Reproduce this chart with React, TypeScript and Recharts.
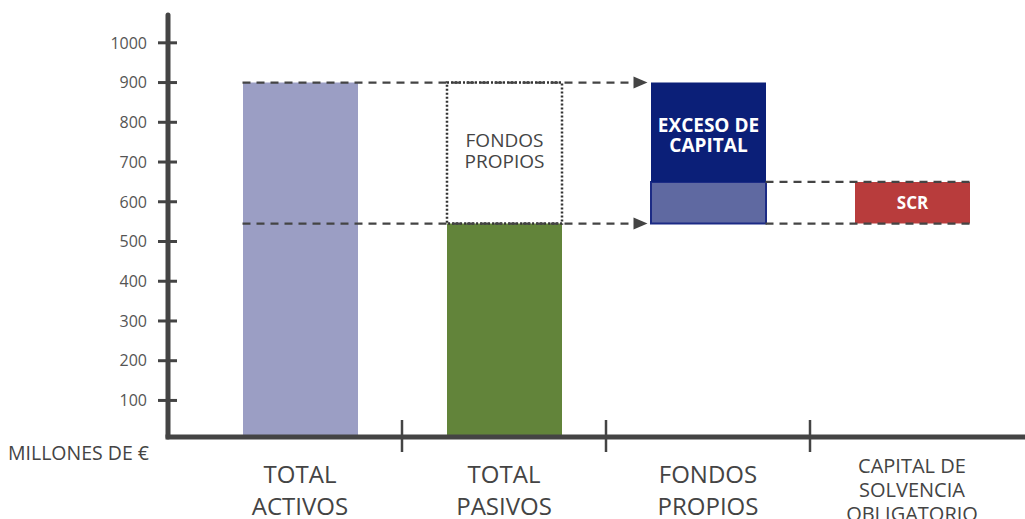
import React from "react"
import { BarChart, Bar, XAxis, YAxis, Cell, LabelList, ReferenceLine } from "recharts"

// categories and their tick label lines
const categories = ["TOTAL ACTIVOS", "TOTAL PASIVOS", "FONDOS PROPIOS", "CAPITAL DE SOLVENCIA OBLIGATORIO"]
const tickLines = [["TOTAL", "ACTIVOS"], ["TOTAL", "PASIVOS"], ["FONDOS", "PROPIOS"], ["CAPITAL DE", "SOLVENCIA", "OBLIGATORIO"]]

// stacked pieces (millones de €)
const baseValues = [0, 0, 545, 545]
const lowerValues = [900, 545, 105, 105]
const upperValues = [0, 355, 250, 0]
const lowerLabels = ["", "", "", "SCR"]
const upperLabels = ["", "FONDOS PROPIOS", "EXCESO DE CAPITAL", ""]

// guide levels
const totalActivos = 900
const totalPasivos = 545
const scrLevel = 650

const yTicks = [100, 200, 300, 400, 500, 600, 700, 800, 900, 1000]

const data = categories.map((name, i) => ({
    name,
    base: baseValues[i],
    lower: lowerValues[i],
    upper: upperValues[i],
    lowerLabel: lowerLabels[i],
    upperLabel: upperLabels[i],
}))

const BAR_SIZE = 115
const HALF = BAR_SIZE / 2
const INK = "#444"

const lowerFills = ["#9b9ec4", "#62843a", "#5f69a1", "#b83c3c"]
const upperFills = ["none", "none", "#0b1f78", "none"]

const labelStyles: Record<string, { size: number; weight: number; fill: string; lh: number; dy: number; lines: string[] }> = {
    "FONDOS PROPIOS": { size: 19, weight: 400, fill: "#444", lh: 21, dy: -6, lines: ["FONDOS", "PROPIOS"] },
    "EXCESO DE CAPITAL": { size: 19, weight: 700, fill: "#fff", lh: 20, dy: 0, lines: ["EXCESO DE", "CAPITAL"] },
    "SCR": { size: 17, weight: 700, fill: "#fff", lh: 20, dy: 6, lines: ["SCR"] },
}

function InnerLabel(props: any) {
    const { x, y, width, height, value } = props
    const st = labelStyles[value]
    if (!st) return null
    const cx = x + width / 2
    const cy = y + height / 2
    return (
        <text x={cx} textAnchor="middle" fill={st.fill} fontSize={st.size} fontWeight={st.weight}>
            {st.lines.map((l, k) => (
                <tspan key={k} x={cx} y={cy + st.dy + k * st.lh}>{l}</tspan>
            ))}
        </text>
    )
}

function CategoryTick(props: any) {
    const { x, y, payload } = props
    const i = categories.indexOf(payload.value)
    const lines = tickLines[i] || []
    const half = payload.offset || 102
    const small = lines.length > 2
    const size = small ? 20 : 24
    const first = small ? 36 : 46
    const lh = small ? 24 : 32
    return (
        <g>
            {i < categories.length - 1 && (
                <line x1={x + half} x2={x + half} y1={y - 17} y2={y + 15} stroke={INK} strokeWidth={2.5} />
            )}
            <text x={x} textAnchor="middle" fill={INK} fontSize={size}>
                {lines.map((l, k) => (
                    <tspan key={k} x={x} y={y + first + k * lh}>{l}</tspan>
                ))}
            </text>
        </g>
    )
}

function ValueTick(props: any) {
    const { x, y, payload } = props
    return (
        <g>
            <line x1={x - 10} x2={x + 9} y1={y} y2={y} stroke={INK} strokeWidth={3} />
            <text x={x - 21} y={y} dy="0.36em" textAnchor="end" fontSize={16} fill="#555">{payload.value}</text>
        </g>
    )
}

function Guide(props: any) {
    const { x1, y1, x2, startShift, endShift, arrow } = props
    if (x1 == null || y1 == null) return null
    const sx = x1 + startShift
    const ex = x2 + endShift
    const lineEnd = arrow ? ex - 12 : ex
    return (
        <g>
            <line x1={sx} y1={y1} x2={lineEnd} y2={y1} stroke={INK} strokeWidth={2.2} strokeDasharray="8 6" />
            {arrow && <polygon points={`${ex},${y1} ${ex - 14},${y1 - 6} ${ex - 14},${y1 + 6}`} fill={INK} />}
        </g>
    )
}

function UnitLabel(props: any) {
    const vb = props.viewBox || { x: 0, y: 15, width: 168, height: 422 }
    return (
        <text x={vb.x + 8} y={vb.y + vb.height + 23} fontSize={19.5} fill={INK}>MILLONES DE €</text>
    )
}

export default function App() {
    return (
        <div style={{ position: "absolute", left: 0, top: 0, fontFamily: "'Open Sans', sans-serif" }}>
            <BarChart width={1025} height={519} data={data} margin={{ top: 15, right: 0, left: 0, bottom: 0 }}>
                <XAxis
                    dataKey="name"
                    interval={0}
                    tickLine={false}
                    tickSize={0}
                    tickMargin={0}
                    height={82}
                    padding={{ left: 30, right: 11 }}
                    axisLine={{ stroke: INK, strokeWidth: 5, strokeLinecap: "square" }}
                    tick={<CategoryTick />}
                />
                <YAxis
                    width={168}
                    domain={[8, 1070]}
                    allowDataOverflow
                    ticks={yTicks}
                    interval={0}
                    tickLine={false}
                    tickSize={0}
                    tickMargin={0}
                    axisLine={{ stroke: INK, strokeWidth: 5, strokeLinecap: "round" }}
                    tick={<ValueTick />}
                    label={(p: any) => <UnitLabel {...p} />}
                />
                <Bar dataKey="base" stackId="a" fill="transparent" barSize={BAR_SIZE} isAnimationActive={false} />
                <Bar dataKey="lower" stackId="a" barSize={BAR_SIZE} isAnimationActive={false}>
                    {data.map((d, i) => (
                        <Cell
                            key={d.name}
                            fill={lowerFills[i]}
                            stroke={i === 2 ? "#1c2b85" : "none"}
                            strokeWidth={i === 2 ? 2 : 0}
                        />
                    ))}
                    <LabelList dataKey="lowerLabel" content={<InnerLabel />} />
                </Bar>
                <Bar dataKey="upper" stackId="a" barSize={BAR_SIZE} isAnimationActive={false}>
                    {data.map((d, i) => (
                        <Cell
                            key={d.name}
                            fill={upperFills[i]}
                            stroke={i === 1 ? "#333" : "none"}
                            strokeWidth={i === 1 ? 2.5 : 0}
                            strokeDasharray={i === 1 ? "2 2" : undefined}
                        />
                    ))}
                    <LabelList dataKey="upperLabel" content={<InnerLabel />} />
                </Bar>
                <ReferenceLine
                    segment={[{ x: categories[0], y: totalActivos }, { x: categories[2], y: totalActivos }]}
                    shape={(p: any) => <Guide {...p} startShift={-HALF} endShift={-HALF - 3} arrow />}
                />
                <ReferenceLine
                    segment={[{ x: categories[0], y: totalPasivos }, { x: categories[2], y: totalPasivos }]}
                    shape={(p: any) => <Guide {...p} startShift={-HALF} endShift={-HALF - 3} arrow />}
                />
                <ReferenceLine
                    segment={[{ x: categories[2], y: scrLevel }, { x: categories[3], y: scrLevel }]}
                    shape={(p: any) => <Guide {...p} startShift={HALF} endShift={HALF} arrow={false} />}
                />
                <ReferenceLine
                    segment={[{ x: categories[2], y: totalPasivos }, { x: categories[3], y: totalPasivos }]}
                    shape={(p: any) => <Guide {...p} startShift={HALF} endShift={HALF} arrow={false} />}
                />
            </BarChart>
        </div>
    )
}
